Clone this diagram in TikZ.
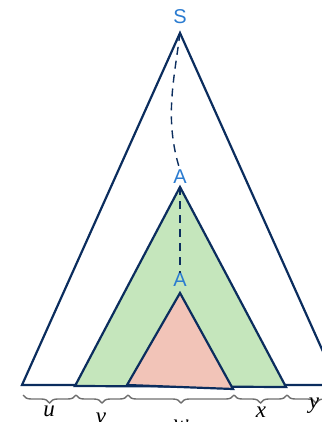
\documentclass[tikz,border=0pt]{standalone}
\usepackage{fontspec}
\setmainfont{Liberation Serif}
\setsansfont{Liberation Sans}
\usetikzlibrary{decorations.pathreplacing}
\definecolor{navy}{HTML}{0B2D5E}
\definecolor{lblue}{HTML}{2A7BD0}
\definecolor{gfill}{HTML}{C5E6BC}
\definecolor{pfill}{HTML}{F2C4B8}
\definecolor{bgray}{HTML}{6E6E6E}
\tikzset{
  tri/.style={draw=navy, line width=2.2pt, line join=miter},
  lbl/.style={text=lblue, font=\sffamily\fontsize{20}{20}\selectfont, inner sep=0pt},
  dsh/.style={draw=navy, line width=1.4pt, dash pattern=on 8pt off 6pt},
  brc/.style={draw=bgray, line width=1.4pt, decorate, decoration={brace, mirror, amplitude=8pt}},
  var/.style={font=\itshape\fontsize{23}{23}\selectfont, inner sep=0pt}
}
\begin{document}
\begin{tikzpicture}[x=1pt, y=-1pt]
\useasboundingbox (0,0) rectangle (321,422);
\coordinate (s) at (180,33);
\coordinate (bl) at (22,385);
\coordinate (br) at (338,385);
\coordinate (ga) at (180,187);
\coordinate (gl) at (75,386);
\coordinate (gr) at (286,387);
\coordinate (pa) at (180,293);
\coordinate (pl) at (127,385);
\coordinate (pr) at (233,389);
\draw[tri] (s) -- (bl) -- (br) -- cycle;
\draw[tri, fill=gfill] (ga) -- (gl) -- (gr) -- cycle;
\draw[tri, fill=pfill] (pa) -- (pl) -- (pr) -- cycle;
\node[lbl] (S) at (180,17) {S};
\node[lbl] (A1) at (180,177) {A};
\node[lbl] (A2) at (180,280) {A};
\draw[dsh] (s) .. controls (174,80) and (164,120) .. (A1.north);
\draw[dsh] (ga) -- (A2.north);
\coordinate (b0) at (23,395);
\coordinate (b1) at (76,395);
\coordinate (b2) at (128,395);
\coordinate (b3) at (234,395);
\coordinate (b4) at (287,395);
\coordinate (b5) at (345,395);
\draw[brc] (b0) -- (b1);
\draw[brc] (b1) -- (b2);
\draw[brc] (b2) -- (b3);
\draw[brc] (b3) -- (b4);
\draw[brc] (b4) -- (b5);
\node[var] (u) at (49,411) {u};
\node[var] (v) at (101,418) {v};
\node[var] (w) at (181,425) {w};
\node[var] (x) at (261,412) {x};
\node[var] (y) at (314,406) {y};
\end{tikzpicture}
\end{document}
